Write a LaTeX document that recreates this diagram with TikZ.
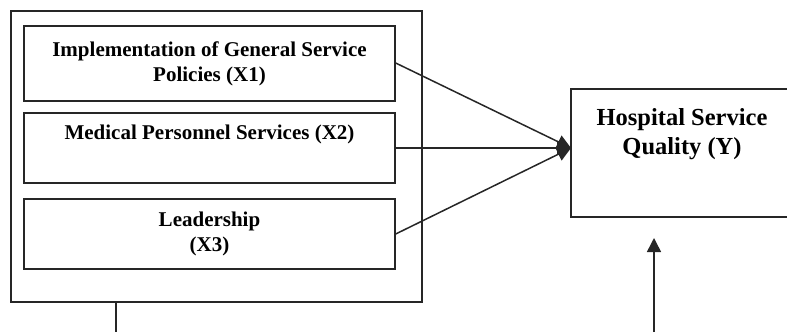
\documentclass[tikz,border=0pt]{standalone}
\usepackage{fontspec}
\setmainfont{Liberation Serif}
\usetikzlibrary{arrows.meta}
\tikzset{
  boxstyle/.style={draw=black!85, line width=1.4pt, inner sep=0pt},
  xtext/.style={font=\bfseries\fontsize{21}{25}\selectfont, align=center},
  ytext/.style={font=\bfseries\fontsize{24.5}{29}\selectfont, align=center},
  conn/.style={draw=black!85, line width=1.5pt},
  tip/.style={-{Triangle[length=14pt,width=14pt]}}
}
\begin{document}
\begin{tikzpicture}[x=1pt,y=-1pt]
\useasboundingbox (0,0) rectangle (787,332);
\clip (0,0) rectangle (787,332);
\node[boxstyle, minimum width=411pt, minimum height=291pt] (outer) at (216.5,156.5) {};
\node[boxstyle, xtext, minimum width=371pt, minimum height=75pt] (x1) at (209.5,63.5) {Implementation of General Service\\Policies (X1)};
\node[boxstyle, xtext, minimum width=371pt, minimum height=70pt] (x2) at (209.5,148) {Medical Personnel Services (X2)\\\strut};
\node[boxstyle, xtext, minimum width=371pt, minimum height=70pt] (x3) at (209.5,234) {Leadership\\(X3)};
\node[boxstyle, minimum width=226pt, minimum height=128pt] (y) at (684,153) {};
\node[ytext] (ylab) at (682,134) {Hospital Service\\Quality (Y)};
\coordinate (tgt) at (571,148);
\coordinate (b1) at (116,332);
\coordinate (b2) at (654,332);
\coordinate (t2) at (654,238);
\draw[conn, tip] (x1.east |- 0,63) -- (tgt);
\draw[conn, tip] (x2.east) -- (tgt);
\draw[conn, tip] (x3.east) -- (tgt);
\draw[conn] (outer.south -| b1) -- (b1);
\draw[conn, tip] (b2) -- (t2);
\end{tikzpicture}
\end{document}
